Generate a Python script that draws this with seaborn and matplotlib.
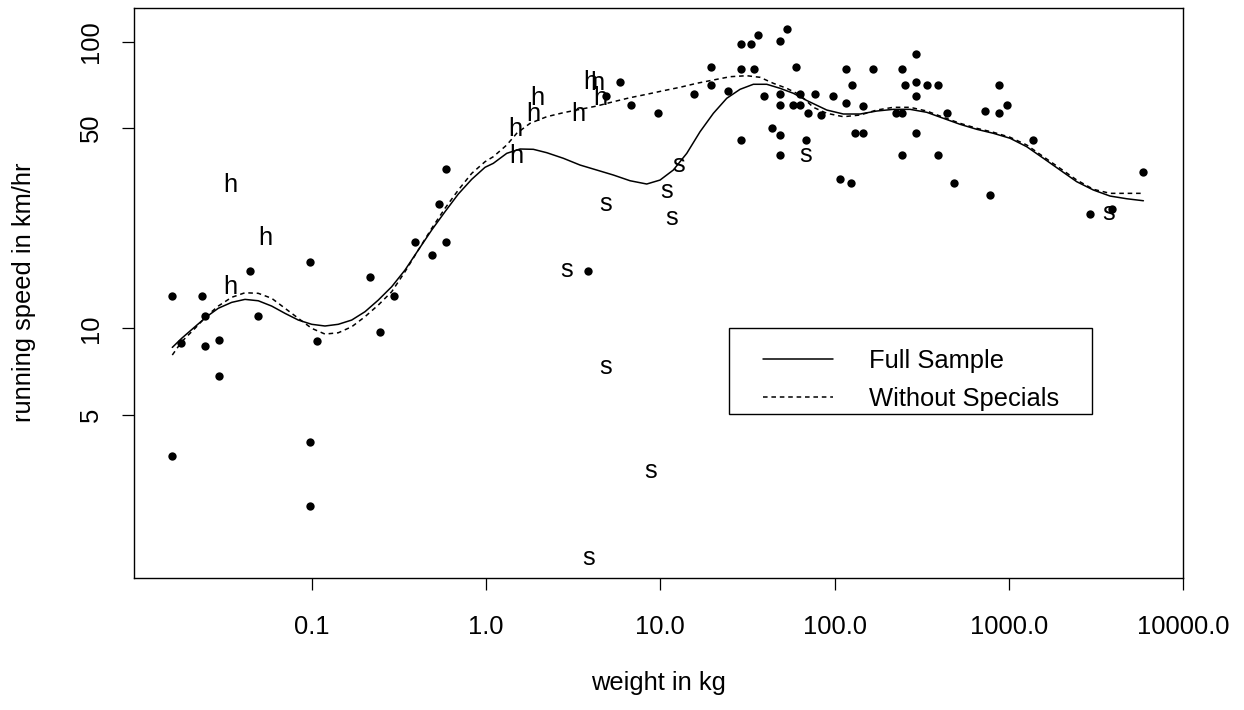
import numpy as np
import pandas as pd
import matplotlib
matplotlib.use("Agg")
import matplotlib.pyplot as plt
from matplotlib.lines import Line2D
from matplotlib.patches import Rectangle
import seaborn as sns

# ordinary mammals (plotted as dots)
dot_weight = [0.0157, 0.0235, 0.0244, 0.0177, 0.0244, 0.0293, 0.0293, 0.0441, 0.0492, 0.098,
              0.107, 0.215, 0.245, 0.295, 0.391, 0.488, 0.586, 0.535, 0.586, 0.0157,
              0.098, 0.098, 5.86, 4.85, 6.81, 9.73, 19.5, 19.5, 15.6, 24.4,
              3.87, 29.1, 33.0, 36.1, 29.1, 34.4, 29.1, 39.2, 48.7, 53.6,
              48.7, 48.7, 43.8, 48.7, 48.7, 60.1, 63.4, 58.0, 63.4, 70.1,
              68.3, 77.6, 83.2, 98.0, 116.4, 126.5, 116.4, 146.2, 131.1, 146.2,
              107.0, 124.3, 166.3, 242.6, 291.7, 253.6, 291.7, 291.7, 338.8, 389.9,
              224.0, 242.6, 291.7, 242.6, 389.9, 439.3, 486.5, 877.4, 732.2, 877.4,
              975.1, 779.0, 1368, 2917, 3882, 5843]
dot_speed = [13.0, 13.0, 11.0, 8.9, 8.65, 9.1, 6.8, 15.9, 11.0, 17.0,
             9.0, 15.1, 9.7, 13.0, 20.0, 18.0, 20.0, 27.1, 36.0, 3.6,
             4.0, 2.4, 72.3, 64.4, 60.2, 56.4, 81.8, 70.7, 65.8, 67.4,
             15.9, 98.4, 98.4, 105.8, 80.3, 80.3, 45.4, 64.6, 100.8, 110.8,
             65.8, 60.2, 50.0, 47.3, 40.3, 81.8, 65.8, 60.2, 60.2, 56.4,
             45.4, 65.8, 55.4, 64.6, 80.3, 70.7, 61.2, 59.6, 47.9, 47.9,
             33.1, 32.1, 80.3, 80.3, 90.8, 70.7, 72.6, 64.6, 70.7, 70.7,
             56.4, 56.4, 47.9, 40.3, 40.3, 56.4, 32.1, 70.7, 57.5, 56.3,
             60.1, 29.2, 45.4, 25.0, 26.0, 35.1]

# hoppers ("h") and specials ("s")
hop_weight = [0.0342, 0.0543, 0.0342, 1.50, 1.47, 1.875, 1.96, 3.40, 3.96, 4.33, 4.52]
hop_speed = [31.6, 20.7, 13.9, 39.9, 49.5, 56.0, 63.6, 56.0, 72.1, 72.0, 63.6]
spec_weight = [12.7, 10.8, 11.6, 4.83, 2.91, 4.83, 8.82, 3.87, 68.3, 3715]
spec_speed = [37.1, 30.1, 24.2, 27.1, 16.0, 7.36, 3.18, 1.58, 40.3, 25.2]

# fitted curve, full sample
full_weight = [0.01586, 0.01795, 0.0214, 0.02497, 0.02911, 0.03475, 0.04143, 0.04938, 0.05894, 0.07027,
               0.08377, 0.1, 0.1192, 0.1421, 0.1697, 0.2022, 0.241, 0.2877, 0.3429, 0.4088,
               0.4881, 0.5817, 0.6936, 0.8279, 0.9869, 1.101, 1.315, 1.567, 1.868, 2.23,
               2.777, 3.462, 4.316, 5.375, 6.703, 8.356, 9.961, 11.87, 14.18, 16.9,
               20.15, 24.04, 28.67, 34.17, 40.78, 48.63, 57.96, 69.2, 90.1, 112.2,
               139.9, 174.4, 217.2, 270.8, 337.6, 420.4, 524.1, 653.6, 813.6, 1015,
               1265, 1576, 1964, 2449, 3050, 3802, 4741, 5904]
full_speed = [8.58, 9.23, 10.13, 10.98, 11.75, 12.32, 12.62, 12.48, 11.96, 11.28,
              10.69, 10.33, 10.19, 10.33, 10.69, 11.43, 12.55, 13.97, 15.97, 18.76,
              22.03, 25.52, 29.42, 33.11, 36.46, 37.64, 40.79, 42.23, 42.13, 41.0,
              39.2, 37.13, 35.67, 34.27, 32.73, 31.88, 32.91, 35.67, 40.79, 48.53,
              56.26, 63.47, 68.22, 71.03, 71.03, 68.77, 66.07, 62.35, 57.76, 55.94,
              55.94, 57.3, 58.08, 58.08, 56.71, 54.04, 51.5, 49.47, 47.91, 46.03,
              43.01, 39.2, 35.67, 32.47, 30.38, 28.94, 28.32, 27.87]

# fitted curve, without specials
nospec_weight = [0.01586, 0.01795, 0.0214, 0.02497, 0.02911, 0.03475, 0.04143, 0.04938, 0.05894, 0.07027,
                 0.08377, 0.1, 0.1192, 0.1421, 0.1697, 0.2022, 0.241, 0.2877, 0.3429, 0.4088,
                 0.4881, 0.5817, 0.6936, 0.8279, 0.9869, 1.101, 1.315, 1.5, 1.789, 2.23,
                 2.777, 3.462, 4.316, 5.375, 6.703, 8.356, 10.4, 12.97, 16.17, 20.15,
                 25.12, 31.31, 37.33, 44.49, 53.12, 63.32, 75.47, 90.1, 112.2, 139.9,
                 174.4, 217.2, 270.8, 337.6, 420.4, 524.1, 653.6, 813.6, 1015, 1265,
                 1576, 1964, 2449, 3050, 3802, 4741, 5806]
nospec_speed = [8.07, 8.98, 10.0, 11.04, 11.96, 12.83, 13.31, 13.25, 12.73, 11.75,
                10.84, 10.0, 9.55, 9.65, 10.13, 10.98, 12.06, 13.42, 15.76, 18.76,
                22.33, 26.22, 30.38, 34.73, 38.13, 39.7, 43.61, 47.91, 51.91, 54.74,
                56.53, 58.08, 59.64, 61.74, 63.78, 65.54, 67.45, 69.33, 71.59, 73.52,
                75.49, 76.09, 75.12, 71.59, 68.77, 65.17, 59.03, 56.26, 54.74, 55.49,
                57.76, 59.03, 59.03, 57.3, 54.48, 51.91, 49.87, 48.3, 46.4, 43.61,
                39.7, 36.16, 32.91, 30.55, 29.58, 29.58, 29.58]

x_ticks = [0.1, 1, 10, 100, 1000, 10000]
x_tick_labels = ["0.1", "1.0", "10.0", "100.0", "1000.0", "10000.0"]
y_ticks = [5, 10, 50, 100]
y_tick_labels = ["5", "10", "50", "100"]

sns.set_theme(style="white")
plt.rcParams["font.family"] = ["Liberation Sans", "DejaVu Sans"]
plt.rcParams["text.color"] = "black"
FS = 18.4
DASH = (0, (3, 2.5))

fig = plt.figure(figsize=(12.44, 7.10), dpi=100)
ax = fig.add_axes([0.1077, 0.1863, 0.8435, 0.802])
ax.set_xscale("log")
ax.set_yscale("log")

dots = pd.DataFrame({"weight": dot_weight, "speed": dot_speed})
sns.scatterplot(data=dots, x="weight", y="speed", ax=ax, color="black",
                s=36, linewidth=0, legend=False)

for w, v in zip(hop_weight, hop_speed):
    ax.text(w, v, "h", fontsize=FS, ha="center", va="center", color="black")
for w, v in zip(spec_weight, spec_speed):
    ax.text(w, v, "s", fontsize=FS, ha="center", va="center", color="black")

full = pd.DataFrame({"weight": full_weight, "speed": full_speed})
nospec = pd.DataFrame({"weight": nospec_weight, "speed": nospec_speed})
sns.lineplot(data=full, x="weight", y="speed", ax=ax, color="black",
             linewidth=1.1, estimator=None, sort=False)
sns.lineplot(data=nospec, x="weight", y="speed", ax=ax, color="black",
             linewidth=1.1, linestyle=DASH, estimator=None, sort=False)

ax.set_xlim(10 ** -2.0195, 10 ** 4)
ax.set_ylim(10 ** 0.130, 10 ** 2.1165)

ax.set_xticks(x_ticks)
ax.set_xticklabels(x_tick_labels)
ax.set_yticks(y_ticks)
ax.set_yticklabels(y_tick_labels, rotation=90, va="center")
ax.minorticks_off()
ax.tick_params(axis="both", which="major", direction="out", length=8.6, width=0.9,
               color="black", labelsize=FS, labelcolor="black", bottom=True, left=True)
ax.tick_params(axis="x", pad=18)
ax.tick_params(axis="y", pad=14)

for sp in ax.spines.values():
    sp.set_color("black")
    sp.set_linewidth(1.0)

ax.set_xlabel("weight in kg", fontsize=FS, color="black")
ax.set_ylabel("running speed in km/hr", fontsize=FS, color="black")
ax.xaxis.set_label_coords(0.5, -0.185)
ax.xaxis.label.set_va("center")
ax.yaxis.set_label_coords(-0.1048, 0.502)
ax.yaxis.label.set_va("center")

# legend: R-style box drawn separately, entries placed without a frame
ax.add_patch(Rectangle((0.5673, 0.287), 0.3454, 0.151, transform=ax.transAxes,
                       fill=False, edgecolor="black", linewidth=1.0, zorder=5))
handles = [Line2D([], [], color="black", linewidth=1.1),
           Line2D([], [], color="black", linewidth=1.1, linestyle=DASH)]
leg = ax.legend(handles, ["Full Sample", "Without Specials"], loc="upper left",
                bbox_to_anchor=(0.5997, 0.4015), fontsize=FS, frameon=False,
                handlelength=2.74, handletextpad=1.38, borderpad=0,
                labelspacing=0.55, borderaxespad=0)
for t in leg.get_texts():
    t.set_color("black")

fig.savefig("out.png", dpi=100)
